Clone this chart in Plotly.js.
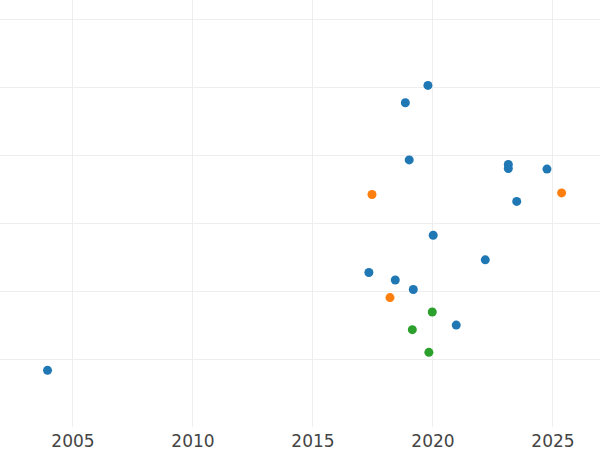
<!DOCTYPE html>
<html>
<head>
<meta charset="utf-8">
<script src="https://cdn.plot.ly/plotly-3.0.1.min.js"></script>
<style>html,body{margin:0;padding:0;background:#fff;}#chart{width:600px;height:450px;}</style>
</head>
<body>
<div id="chart"></div>
<script>
const blueX = [2003.94, 2019.79, 2018.85, 2019.01, 2023.14, 2023.14, 2024.75, 2023.49, 2020.01, 2022.18, 2017.33, 2018.43, 2019.18, 2020.97];
const blueY = [0.843, 5.03, 4.775, 3.935, 3.868, 3.809, 3.80, 3.325, 2.828, 2.467, 2.28, 2.17, 2.03, 1.508];
const orangeX = [2017.46, 2025.36, 2018.21];
const orangeY = [3.427, 3.45, 1.912];
const greenX = [2019.97, 2019.14, 2019.83];
const greenY = [1.70, 1.44, 1.107];
const tickVals = [2005, 2010, 2015, 2020, 2025];

const mk = (x, y, c) => ({x: x, y: y, type: 'scatter', mode: 'markers', marker: {color: c, size: 9}, showlegend: false});
const data = [mk(blueX, blueY, '#1f77b4'), mk(orangeX, orangeY, '#ff7f0e'), mk(greenX, greenY, '#2ca02c')];
const layout = {
  width: 600, height: 450,
  margin: {l: 0, r: 0, t: 0, b: 23},
  paper_bgcolor: '#fff', plot_bgcolor: '#fff',
  font: {family: 'DejaVu Sans', color: '#444', size: 17},
  xaxis: {range: [2001.96, 2026.96], tickvals: tickVals, ticktext: tickVals.map(String), showgrid: true, gridcolor: '#eeeeee', zeroline: false, showline: false, ticks: '', ticklabelstandoff: 2},
  yaxis: {range: [0.01, 6.285], dtick: 1, tick0: 0, showgrid: true, gridcolor: '#eeeeee', gridwidth: 1.3, zeroline: false, showline: false, showticklabels: false, ticks: ''}
};
Plotly.newPlot('chart', data, layout, {displayModeBar: false, staticPlot: true});
</script>
</body>
</html>
